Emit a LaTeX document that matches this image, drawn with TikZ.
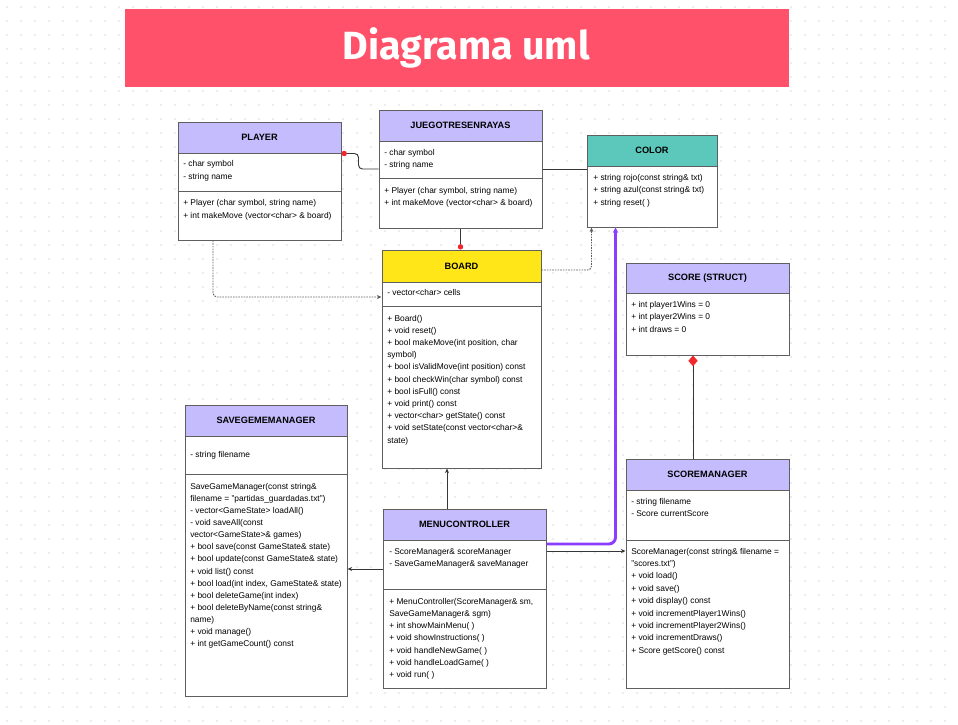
\documentclass[tikz,border=0pt]{standalone}
\usepackage{fontspec}
\setmainfont{Liberation Sans}
\newfontfamily\titlefont{Fira Sans}
\usetikzlibrary{arrows.meta,calc,fit}

\definecolor{titlered}{RGB}{255,81,106}
\definecolor{headlila}{RGB}{197,188,253}
\definecolor{headteal}{RGB}{91,200,187}
\definecolor{headyellow}{RGB}{255,230,25}
\definecolor{boxgray}{RGB}{95,95,95}
\definecolor{linegray}{RGB}{55,55,55}
\definecolor{violetline}{RGB}{140,60,255}
\definecolor{dotred}{RGB}{240,40,45}

% member lines of a class: name, x, first baseline, step, lines
\newcommand{\members}[5]{%
  \foreach \t [count=\i from 0] in {#5}
    \node[txt] (#1\i) at (#2,#3+#4*\i) {\t};}

\begin{document}
\begin{tikzpicture}[x=0.75pt,y=-0.75pt,
  box/.style={draw=boxgray, line width=0.75pt, inner sep=0pt, fill=white},
  head/.style={box, label={[font=\fontsize{6.9}{8}\selectfont\bfseries]center:#1}},
  txt/.style={anchor=base west, inner sep=0pt, font=\fontsize{6.3}{7}\selectfont},
  sep/.style={draw=boxgray, line width=0.75pt},
  link/.style={draw=linegray, line width=0.7pt, rounded corners=3pt},
  arr/.style={-{Stealth[length=3.5pt,width=3pt]}},
  dep/.style={link, draw=boxgray, dash pattern=on 1.2pt off 0.8pt, arr},
  reddot/.tip={Circle[length=4pt,color=dotred]},
  reddiamond/.tip={Diamond[length=8pt,width=7pt,color=dotred]}]
\useasboundingbox (0,0) rectangle (958,725);
% Dot grid
\foreach \x in {0,...,68}
  \foreach \y in {0,...,51}
    \fill[gray!30] (7+14*\x,7+14*\y) circle (0.8);

% Title
\node[fill=titlered, inner sep=0pt, fit={(125,9) (789,87)},
  label={[text=white, xshift=7pt, font=\titlefont\bfseries\fontsize{29.5}{31}\selectfont]center:Diagrama uml}] (title) {};

% Player
\node[box, fit={(178,122) (341,240)}] (player) {};
\node[head=PLAYER, fill=headlila, fit={(178,122) (341,153)}] (player-h) {};
\draw[sep] (178,191) -- (341,191);
\members{player-a}{183}{166}{13.5}{- char symbol, - string name}
\members{player-m}{183}{205}{13}{{+ Player  (char symbol, string name)}, + int makeMove (vector<char> \& board)}

% JuegoTresEnRayas
\node[box, fit={(379,110) (542,228)}] (juego) {};
\node[head=JUEGOTRESENRAYAS, fill=headlila, fit={(379,110) (542,141)}] (juego-h) {};
\draw[sep] (379,178) -- (542,178);
\members{juego-a}{384}{155}{12}{- char symbol, - string name}
\members{juego-m}{384}{193}{12}{{+ Player  (char symbol, string name)}, + int makeMove (vector<char> \& board)}

% Color
\node[box, fit={(587,135) (717,227)}] (color) {};
\node[head=COLOR, fill=headteal, fit={(587,135) (717,166)}] (color-h) {};
\members{color-m}{593}{180}{12.5}{+ string rojo(const string\& txt), + string azul(const string\& txt), + string reset( )}

% Board
\node[box, fit={(382,250) (541,468)}] (board) {};
\node[head=BOARD, fill=headyellow, fit={(382,250) (541,282)}] (board-h) {};
\draw[sep] (382,306) -- (541,306);
\members{board-a}{387}{295}{12}{- vector<char> cells}
\members{board-m}{387}{321}{12.2}{+ Board(), + void reset(), {+ bool makeMove(int position, char}, symbol),
  + bool isValidMove(int position) const, + bool checkWin(char symbol) const, + bool isFull() const,
  + void print() const, + vector<char> getState() const, + void setState(const vector<char>\&, state)}

% Score (struct)
\node[box, fit={(626,263) (789,355)}] (score) {};
\node[head=SCORE (STRUCT), fill=headlila, fit={(626,263) (789,293)}] (score-h) {};
\members{score-a}{631}{307}{12.5}{+ int player1Wins = 0, + int player2Wins = 0, + int draws = 0}

% SaveGameManager
\node[box, fit={(185,405) (347,696)}] (savegame) {};
\node[head=SAVEGEMEMANAGER, fill=headlila, fit={(185,405) (347,436)}] (savegame-h) {};
\draw[sep] (185,474) -- (347,474);
\members{savegame-a}{190}{457}{12}{- string filename}
\members{savegame-m}{190}{489}{12.15}{SaveGameManager(const string\&, filename = "partidas\_guardadas.txt"),
  - vector<GameState> loadAll(), - void saveAll(const, vector<GameState>\& games),
  + bool save(const GameState\& state), + bool update(const GameState\& state), + void list() const,
  {+ bool load(int index, GameState\& state)}, + bool deleteGame(int index), + bool deleteByName(const string\&,
  name), + void manage(), + int getGameCount() const}

% MenuController
\node[box, fit={(383,509) (546,688)}] (menu) {};
\node[head=MENUCONTROLLER, fill=headlila, fit={(383,509) (546,540)}] (menu-h) {};
\draw[sep] (383,589) -- (546,589);
\members{menu-a}{389}{554}{12}{- ScoreManager\& scoreManager, - SaveGameManager\& saveManager}
\members{menu-m}{389}{604}{12.3}{{+ MenuController(ScoreManager\& sm,}, SaveGameManager\& sgm), + int showMainMenu( ),
  + void showInstructions( ), + void handleNewGame( ), + void handleLoadGame( ), + void run( )}

% ScoreManager
\node[box, fit={(626,459) (789,688)}] (scoremgr) {};
\node[head=SCOREMANAGER, fill=headlila, fit={(626,459) (789,490)}] (scoremgr-h) {};
\draw[sep] (626,540) -- (789,540);
\members{scoremgr-a}{631}{504}{12.5}{- string filename, - Score currentScore}
\members{scoremgr-m}{631}{554}{12.4}{ScoreManager(const string\& filename =, "scores.txt"), + void load(), + void save(),
  + void display() const, + void incrementPlayer1Wins(), + void incrementPlayer2Wins(),
  + void incrementDraws(), + Score getScore() const}

% Connectors
\draw[link, reddot-] (player-h.south east) -- ++(17,0) |- (juego.west);
\draw[link] (juego.east) -- (juego.east -| color.west);
\draw[link, -reddot] (juego.south) -- (juego.south |- board.north);
\draw[dep] (213,0 |- player.south) |- (board.west |- 0,297);
\draw[dep] (board.east |- 0,270) -| ($(color.south west)+(5,0)$);
\draw[link, draw=violetline, line width=2.2pt, rounded corners=5pt, -{Stealth[length=4pt,width=4pt]}]
  (menu.east |- 0,544) -| ($(color.south west)+(29,0)$);
\draw[link, arr] (menu.east |- 0,551) -- (scoremgr.west |- 0,551);
\draw[link, arr] (menu.west |- 0,569) -- (savegame.east |- 0,569);
\draw[link, arr] (447,0 |- menu.north) -- (447,0 |- board.south);
\draw[link, -reddiamond] (693,0 |- scoremgr.north) -- (693,0 |- score.south);
\end{tikzpicture}
\end{document}
